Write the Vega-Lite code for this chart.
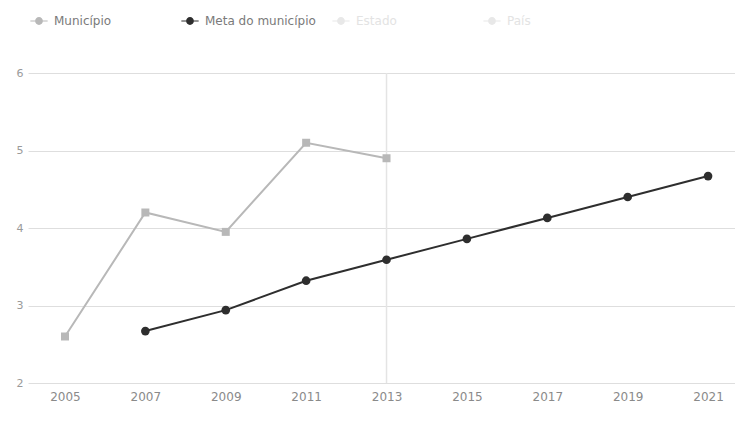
{
  "$schema": "https://vega.github.io/schema/vega-lite/v6.json",
  "width": 707,
  "height": 310,
  "autosize": {"type": "none"},
  "padding": {"left": 28, "top": 73, "right": 0, "bottom": 38},
  "background": "white",
  "config": {"view": {"stroke": null}, "font": "DejaVu Sans"},
  "data": {
    "values": [
      {"year": 2005, "series": "Município", "value": 2.6},
      {"year": 2007, "series": "Município", "value": 4.2},
      {"year": 2009, "series": "Município", "value": 3.95},
      {"year": 2011, "series": "Município", "value": 5.1},
      {"year": 2013, "series": "Município", "value": 4.9},
      {"year": 2007, "series": "Meta do município", "value": 2.67},
      {"year": 2009, "series": "Meta do município", "value": 2.94},
      {"year": 2011, "series": "Meta do município", "value": 3.32},
      {"year": 2013, "series": "Meta do município", "value": 3.59},
      {"year": 2015, "series": "Meta do município", "value": 3.86},
      {"year": 2017, "series": "Meta do município", "value": 4.13},
      {"year": 2019, "series": "Meta do município", "value": 4.4},
      {"year": 2021, "series": "Meta do município", "value": 4.67}
    ]
  },
  "encoding": {
    "x": {
      "field": "year",
      "type": "quantitative",
      "scale": {"domain": [2004.08, 2021.67], "nice": false, "zero": false},
      "axis": {
        "title": null,
        "values": [2005, 2007, 2009, 2011, 2013, 2015, 2017, 2019, 2021],
        "format": "d",
        "grid": false,
        "ticks": false,
        "domain": false,
        "labelColor": "#8a8a8a",
        "labelFontSize": 12,
        "labelPadding": 8
      }
    },
    "y": {
      "field": "value",
      "type": "quantitative",
      "scale": {"domain": [2, 6], "nice": false, "zero": false},
      "axis": {
        "title": null,
        "values": [2, 3, 4, 5, 6],
        "grid": true,
        "gridColor": "#dedede",
        "ticks": false,
        "domain": false,
        "labelColor": "#9a9a9a",
        "labelFontSize": 11,
        "labelPadding": 5
      }
    }
  },
  "layer": [
    {
      "data": {"values": [{"year": 2013}]},
      "mark": {"type": "rule", "color": "#e4e4e4", "strokeWidth": 1.5},
      "encoding": {"x": {"field": "year", "type": "quantitative"}, "y": null}
    },
    {
      "layer": [
        {"mark": {"type": "line", "strokeWidth": 2}},
        {
          "transform": [{"filter": "datum.series === 'Município'"}],
          "mark": {"type": "point", "shape": "square", "filled": true, "opacity": 1, "size": 64}
        },
        {
          "transform": [{"filter": "datum.series === 'Meta do município'"}],
          "mark": {"type": "point", "shape": "circle", "filled": true, "opacity": 1, "size": 75}
        }
      ],
      "encoding": {
        "color": {
          "field": "series",
          "type": "nominal",
          "scale": {
            "domain": ["Município", "Meta do município", "Estado", "País"],
            "range": ["#b8b8b8", "#2e2e2e", "#e8e8e8", "#e8e8e8"]
          },
          "legend": {
            "title": null,
            "orient": "none",
            "legendX": 2,
            "legendY": -61,
            "direction": "horizontal",
            "columns": 4,
            "gridAlign": "all",
            "columnPadding": 16,
            "symbolType": "M-1,-0.07H1V0.07H-1Z M0.45,0A0.45,0.45 0 1 1 -0.45,0A0.45,0.45 0 1 1 0.45,0Z",
            "symbolSize": 300,
            "labelFontSize": 12,
            "labelOffset": 6,
            "labelLimit": 200,
            "encode": {
              "symbols": {
                "update": {
                  "strokeWidth": {"value": 0}
                }
              },
              "labels": {
                "update": {
                  "fill": {"signal": "indexof(['Estado','País'], datum.value) >= 0 ? '#e3e3e3' : '#7a7a7a'"}
                }
              }
            }
          }
        }
      }
    }
  ]
}
